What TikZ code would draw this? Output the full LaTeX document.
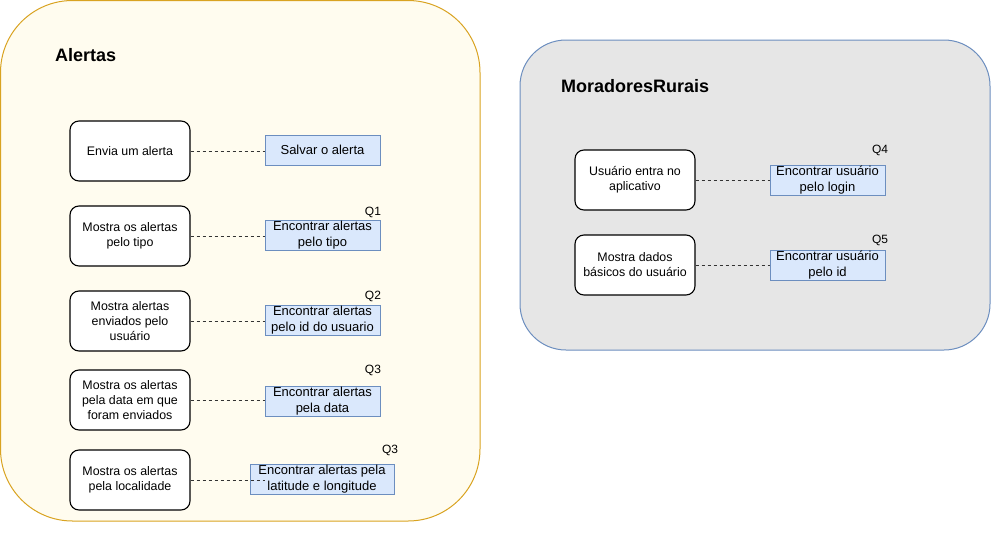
\documentclass[tikz,border=0pt]{standalone}
\usepackage{fontspec}
\setmainfont{Liberation Sans}
\definecolor{creamfill}{HTML}{FFFCEF}
\definecolor{goldstroke}{HTML}{D9A321}
\definecolor{grayfill}{HTML}{E6E6E6}
\definecolor{bluestroke}{HTML}{6C8EBF}
\definecolor{bluefill}{HTML}{DAE8FC}
\definecolor{linkgray}{HTML}{333333}
\begin{document}
\begin{tikzpicture}[x=1pt,y=-1pt,
  every node/.style={font=\fontsize{12}{14.5}\selectfont},
  usecase/.style={draw=black,line width=1.1pt,fill=white,rounded corners=9pt,minimum width=120pt,minimum height=60pt,align=center,inner sep=0pt,font=\fontsize{12.4}{15}\selectfont},
  query/.style={draw=bluestroke,line width=0.9pt,fill=bluefill,minimum width=115pt,minimum height=30pt,align=center,inner sep=0pt,font=\fontsize{13}{15.6}\selectfont},
  qlabel/.style={inner sep=0pt},
  boxtitle/.style={font=\fontsize{18}{20}\selectfont\bfseries,anchor=west,inner sep=0pt},
  link/.style={draw=linkgray,line width=0.9pt,dash pattern=on 3pt off 3pt}]
\useasboundingbox (0,0) rectangle (991,541);
% containers
\draw[fill=creamfill,draw=goldstroke,line width=1pt,rounded corners=72pt] (0.5,0.5) rectangle (480,521);
\draw[fill=grayfill,draw=bluestroke,line width=1pt,rounded corners=46pt] (520,40) rectangle (990,350);
\node[boxtitle] (t1) at (55,55.5) {Alertas};
\node[boxtitle] (t2) at (561,86) {MoradoresRurais};
% left use cases
\node[usecase] (u1) at (130,151) {Envia um alerta};
\node[usecase] (u2) at (130,236) {Mostra os alertas\\pelo tipo};
\node[usecase] (u3) at (130,321) {Mostra alertas\\enviados pelo\\usuário};
\node[usecase] (u4) at (130,400) {Mostra os alertas\\pela data em que\\foram enviados};
\node[usecase] (u5) at (130,480) {Mostra os alertas\\pela localidade};
% left queries
\node[query] (q1) at (322.5,150) {Salvar o alerta};
\node[query] (q2) at (322.5,235) {Encontrar alertas\\pelo tipo};
\node[query] (q3) at (322.5,320) {Encontrar alertas\\pelo id do usuario};
\node[query] (q4) at (322.5,401) {Encontrar alertas\\pela data};
\node[query,minimum width=144pt] (q5) at (322,479) {Encontrar alertas pela\\latitude e longitude};
\node[qlabel] (l1) at (373,212) {Q1};
\node[qlabel] (l2) at (373,296) {Q2};
\node[qlabel] (l3) at (373,370) {Q3};
\node[qlabel] (l4) at (390,450) {Q3};
% right use cases
\node[usecase] (r1) at (635,180) {Usuário entra no\\aplicativo};
\node[usecase] (r2) at (635,265) {Mostra dados\\básicos do usuário};
\node[query] (rq1) at (827.5,180) {Encontrar usuário\\pelo login};
\node[query] (rq2) at (827.5,265) {Encontrar usuário\\pelo id};
\node[qlabel] (l5) at (880,150) {Q4};
\node[qlabel] (l6) at (880,240) {Q5};
% links
\draw[link] (u1.east) -- (u1.east -| q1.west);
\draw[link] (u2.east) -- (u2.east -| q2.west);
\draw[link] (u3.east) -- (u3.east -| q3.west);
\draw[link] (u4.east) -- (u4.east -| q4.west);
\coordinate (e5) at (265,480);
\draw[link] (u5.east) -- (e5);
\draw[link] (r1.east) -- (r1.east -| rq1.west);
\draw[link] (r2.east) -- (r2.east -| rq2.west);
\end{tikzpicture}
\end{document}
